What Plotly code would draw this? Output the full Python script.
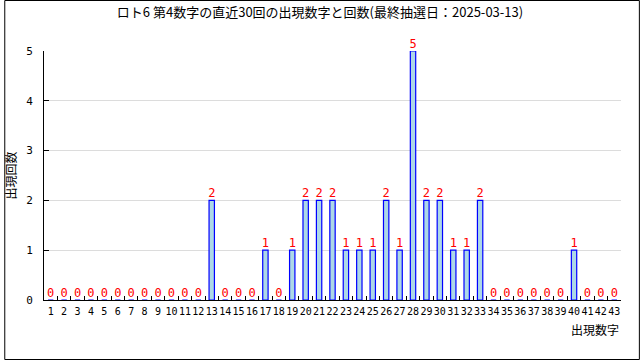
import plotly.graph_objects as go

numbers = [str(i) for i in range(1, 44)]
counts = [0,0,0,0,0,0,0,0,0,0,0,0,2,0,0,0,1,0,1,2,2,2,1,1,1,2,1,5,2,2,1,1,2,0,0,0,0,0,0,1,0,0,0]
title = "ロト6 第4数字の直近30回の出現数字と回数(最終抽選日：2025-03-13)"
y_title = "出現回数"
x_title = "出現数字"

FONT = "DejaVu Sans Mono, Noto Sans CJK JP"

L, R, T, B = 40, 19, 51, 60
W, H = 640, 360
pw, ph = W - L - R, H - T - B

fig = go.Figure()
fig.add_trace(go.Bar(
    x=numbers, y=counts, width=0.4,
    marker=dict(color="#add8e6", line=dict(color="#0000ff", width=1.2)),
    text=[str(c) for c in counts], textposition="outside",
    textfont=dict(color="#ff0000", size=12, family=FONT),
    constraintext="none",
    cliponaxis=False,
))

fig.update_layout(
    width=W, height=H,
    margin=dict(l=L, r=R, t=T, b=B),
    paper_bgcolor="white", plot_bgcolor="white",
    showlegend=False,
    font=dict(family=FONT, size=11, color="#000"),
    title=dict(text=title, x=0.5, xanchor="center", y=1 - 12/H, yanchor="middle",
               font=dict(size=13, family="Noto Sans CJK JP", color="#000")),
    bargap=0.6,
)
fig.update_xaxes(type="category", showline=True, linecolor="black", linewidth=1,
                 ticks="inside", tickson="boundaries", ticklen=4, tickcolor="black",
                 showgrid=False, tickfont=dict(size=10), tickangle=0, ticklabelstandoff=2,
                 range=[-0.5, 42.5])
fig.update_yaxes(range=[0, 5], dtick=1, showline=True, linecolor="black", linewidth=1,
                 ticks="inside", ticklen=5, tickcolor="black",
                 showgrid=True, gridcolor="#dcdcdc", gridwidth=1,
                 tickfont=dict(size=11), ticklabelstandoff=8, zeroline=False,
                 title=dict(text=y_title, font=dict(size=12, family="Noto Sans CJK JP"), standoff=6))

fig.add_annotation(text=x_title, xref="paper", yref="paper", x=1, y=-29/ph,
                   xanchor="right", yanchor="middle", showarrow=False,
                   font=dict(size=12, family="Noto Sans CJK JP"))
fig.add_shape(type="rect", xref="paper", yref="paper", layer="above",
              x0=(0.5 - L)/pw, x1=(W - 0.5 - L)/pw,
              y0=-(H - 0.5 - T - ph)/ph, y1=1 + (T - 0.5)/ph,
              line=dict(color="black", width=1))

fig.write_html("out.html")
